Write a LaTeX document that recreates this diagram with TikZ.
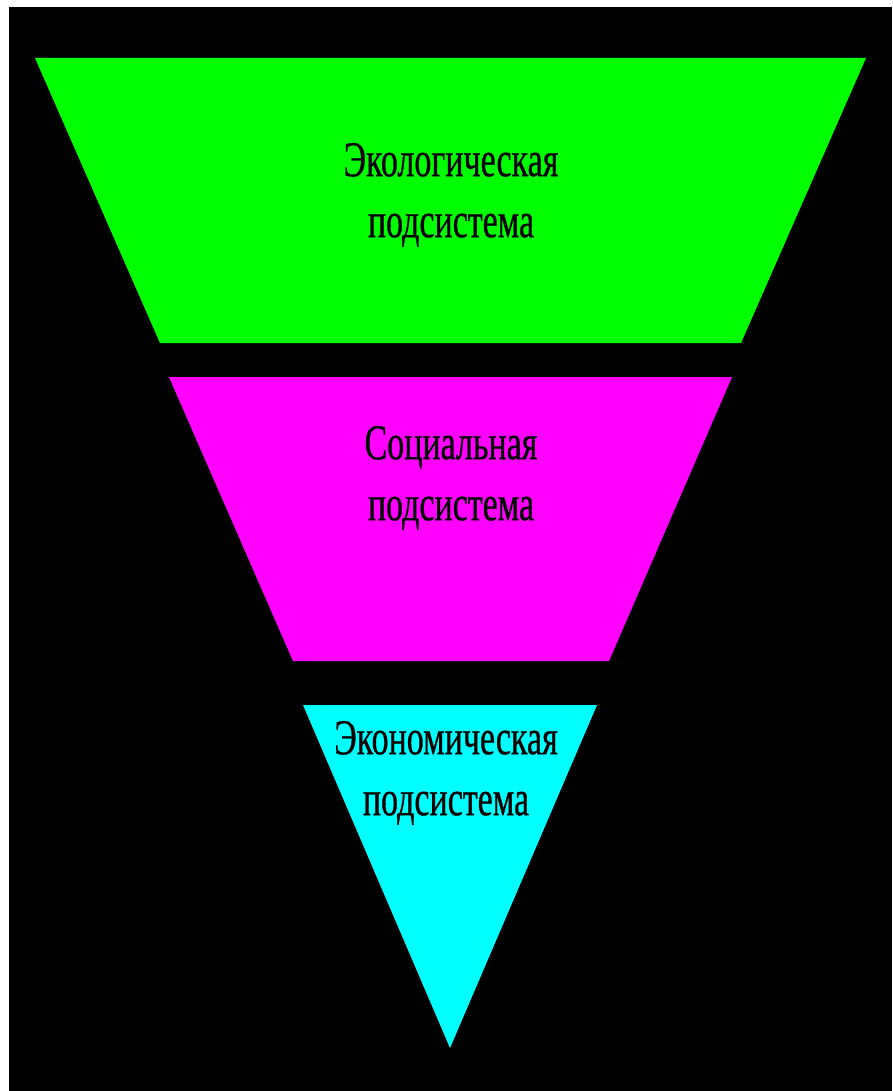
\documentclass[tikz,border=0pt]{standalone}
\usepackage{fontspec}
\setmainfont[FakeStretch=0.68,FakeBold=0.6]{Liberation Serif}
\usepackage{tikz}
\definecolor{ecogreen}{HTML}{00FF00}
\definecolor{socmagenta}{HTML}{FF00FF}
\definecolor{econcyan}{HTML}{00FFFF}

\begin{document}
\begin{tikzpicture}[
    x=1pt,
    y=-1pt,
    band/.style={
        draw=none
    },
    caption/.style={
        align=center,
        inner sep=0pt,
        text=black,
        font=\fontsize{50}{61}\selectfont
    }
]

% Frame
\useasboundingbox (0,0) rectangle (892,1091);
\fill[white] (0,0) rectangle (892,1091);
\fill[black] (9,7) rectangle (892,1091);

% Bands
\fill[band, ecogreen] (35,58) -- (866,58) -- (741,343) -- (160,343) -- cycle;
\fill[band, socmagenta] (169,377) -- (732,377) -- (609,661) -- (293,661) -- cycle;
\fill[band, econcyan] (303,705) -- (597,705) -- (450,1048) -- cycle;

% Labels
\node[caption] (eco) at (451,195) {Экологическая\\подсистема};
\node[caption] (soc) at (451,478) {Социальная\\подсистема};
\node[caption] (econ) at (446,773) {Экономическая\\подсистема};

\end{tikzpicture}
\end{document}
